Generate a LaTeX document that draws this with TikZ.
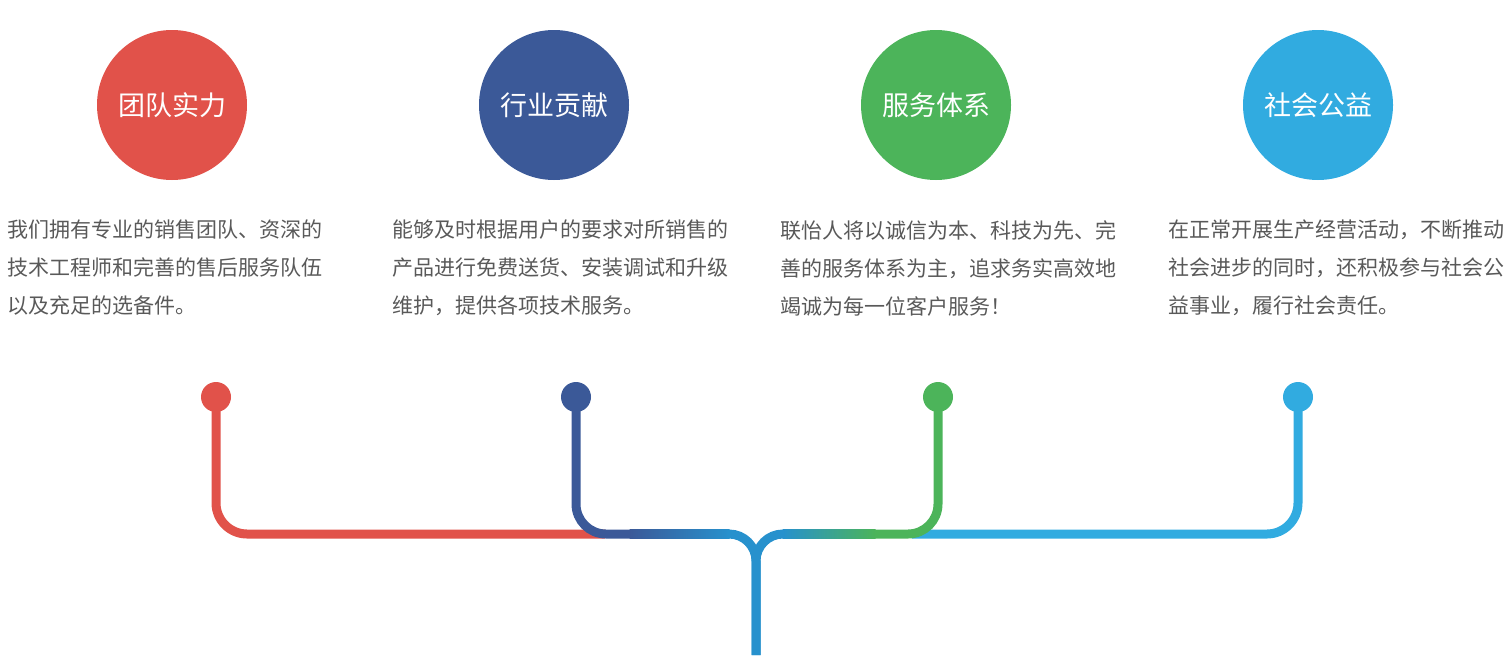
\documentclass[tikz,border=0pt]{standalone}
\usepackage{fontspec}
\setmainfont{Noto Sans CJK SC}
\newfontfamily\cjk{Noto Sans CJK SC}
\definecolor{cred}{HTML}{E1524A}
\definecolor{cblue}{HTML}{3B5998}
\definecolor{cgreen}{HTML}{4CB45A}
\definecolor{ccyan}{HTML}{31ABE0}
\definecolor{cstem}{HTML}{2791CD}
\definecolor{ctext}{HTML}{595959}
\begin{document}
\begin{tikzpicture}[x=1pt,y=-1pt,
  bigcirc/.style={circle,fill=#1,minimum size=150pt,inner sep=0pt,text=white,font=\cjk\fontsize{27}{31}\selectfont},
  dotc/.style={circle,fill=#1,minimum size=30pt,inner sep=0pt},
  body/.style={anchor=north west,inner sep=0pt,align=left,text=ctext,font=\cjk\fontsize{21}{38}\selectfont},
  wire/.style={draw=#1,line width=9pt},
]
\useasboundingbox (0,0) rectangle (1512,667);
% circles
\node[bigcirc=cred]   (t1) at (172,105) {团队实力};
\node[bigcirc=cblue]  (t2) at (554,105) {行业贡献};
\node[bigcirc=cgreen] (t3) at (936,105) {服务体系};
\node[bigcirc=ccyan]  (t4) at (1318,105) {社会公益};
% body texts
\node[body] (p1) at (7,220) {我们拥有专业的销售团队、资深的\\技术工程师和完善的售后服务队伍\\以及充足的选备件。};
\node[body] (p2) at (392,220) {能够及时根据用户的要求对所销售的\\产品进行免费送货、安装调试和升级\\维护，提供各项技术服务。};
\node[body] (p3) at (780,220) {联怡人将以诚信为本、科技为先、完\\善的服务体系为主，追求务实高效地\\竭诚为每一位客户服务！};
\node[body] (p4) at (1168,220) {在正常开展生产经营活动，不断推动\\社会进步的同时，还积极参与社会公\\益事业，履行社会责任。};
% coordinates
\coordinate (r) at (216,397);
\coordinate (b) at (576,397);
\coordinate (g) at (938,397);
\coordinate (c) at (1298,397);
\coordinate (rc) at (216,534);
\coordinate (bc) at (576,534);
\coordinate (gc) at (938,534);
\coordinate (cc) at (1298,534);
\coordinate (j) at (756,534);
\coordinate (bottom) at (756,655);
% wires
\draw[wire=cred,rounded corners=31] (r) -- (rc) -- (605,534);
\draw[wire=ccyan,rounded corners=31] (c) -- (cc) -- (912,534);
\draw[wire=cblue,rounded corners=30] (b) -- (bc) -- (630,534);
\shade[left color=cblue,right color=cstem] (629.5,529.5) rectangle (729.5,538.5);
\draw[wire=cgreen,rounded corners=30] (g) -- (gc) -- (875,534);
\shade[left color=cstem,right color=cgreen] (782.5,529.5) rectangle (875.5,538.5);
\draw[wire=cstem,rounded corners=27] (728,534) -- (j) -- (bottom);
\draw[wire=cstem,rounded corners=27] (784,534) -- (j) -- (bottom);
% dots
\node[dotc=cred]   (d1) at (r) {};
\node[dotc=cblue]  (d2) at (b) {};
\node[dotc=cgreen] (d3) at (g) {};
\node[dotc=ccyan]  (d4) at (c) {};
\end{tikzpicture}
\end{document}
